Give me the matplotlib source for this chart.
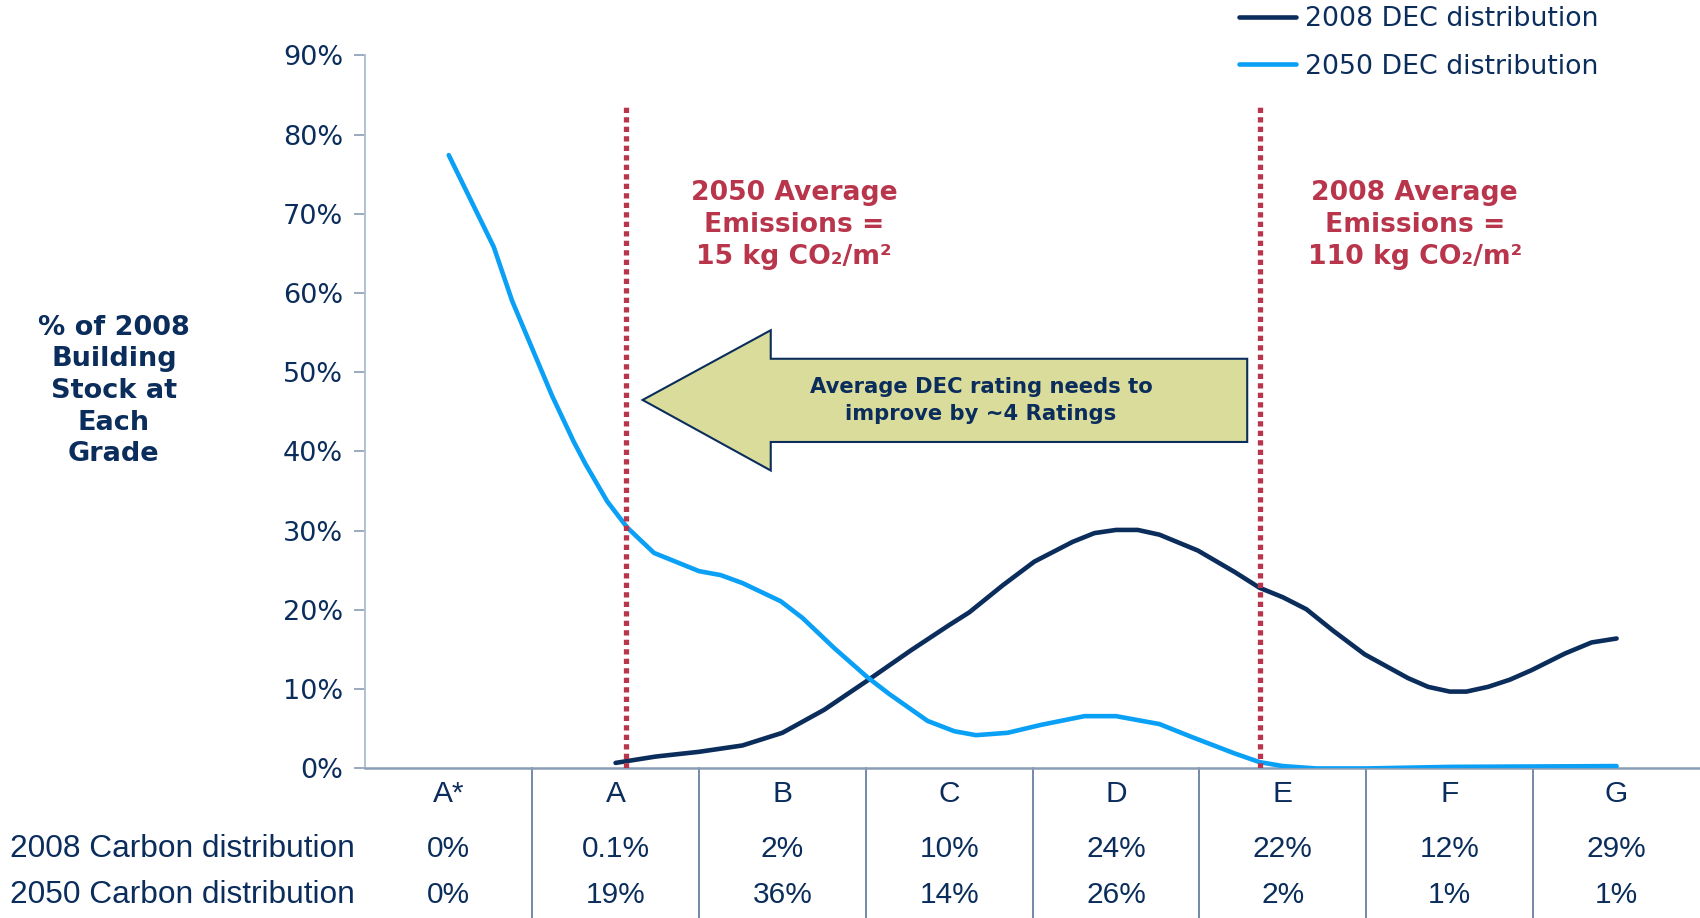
import matplotlib
matplotlib.use('Agg')
import matplotlib.pyplot as plt
from matplotlib.patches import Polygon
from matplotlib.transforms import blended_transform_factory

# categorias e tabela de baixo
grades = ['A*', 'A', 'B', 'C', 'D', 'E', 'F', 'G']
carbon_2008 = ['0%', '0.1%', '2%', '10%', '24%', '22%', '12%', '29%']
carbon_2050 = ['0%', '19%', '36%', '14%', '26%', '2%', '1%', '1%']

# curvas (posicao em unidades de nota, % do estoque)
dec_2008_x = [1.0, 1.24, 1.5, 1.76, 2.0, 2.25, 2.51, 2.77, 3.0, 3.12, 3.32, 3.51,
              3.74, 3.87, 4.0, 4.13, 4.26, 4.49, 4.71, 4.86, 5.0, 5.14, 5.3, 5.49,
              5.75, 5.87, 6.0, 6.1, 6.23, 6.36, 6.49, 6.69, 6.85, 7.0]
dec_2008_y = [0.7, 1.5, 2.1, 2.9, 4.5, 7.4, 11.1, 14.9, 18.1, 19.7, 23.1, 26.1,
              28.6, 29.7, 30.1, 30.1, 29.5, 27.5, 24.8, 22.8, 21.6, 20.1, 17.4, 14.4,
              11.4, 10.3, 9.7, 9.7, 10.3, 11.2, 12.4, 14.5, 15.9, 16.4]

dec_2050_x = [0.0, 0.27, 0.38, 0.62, 0.75, 0.82, 0.95, 1.07, 1.23, 1.5, 1.63, 1.76,
              1.99, 2.12, 2.31, 2.51, 2.64, 2.87, 3.03, 3.16, 3.35, 3.55, 3.81, 4.0,
              4.26, 4.45, 4.71, 4.86, 5.0, 5.2, 5.5, 6.0, 7.0]
dec_2050_y = [77.4, 65.8, 59.0, 47.0, 41.2, 38.4, 33.7, 30.4, 27.2, 24.9, 24.4, 23.4,
              21.1, 19.0, 15.2, 11.5, 9.4, 6.0, 4.7, 4.2, 4.5, 5.5, 6.6, 6.6,
              5.6, 4.0, 1.9, 0.8, 0.3, 0.0, 0.0, 0.2, 0.3]

media_2050 = 1.065
media_2008 = 4.864

navy = '#0b2d5c'
azul = '#0aa0f5'
vermelho = '#b8354c'
eixo = '#8a9db5'

fig = plt.figure(figsize=(17, 9.18), dpi=100)
ax = fig.add_axes([0.2149, 0.1629, 1 - 0.2149, 0.9398 - 0.1629])

ax.plot(dec_2008_x, dec_2008_y, color=navy, lw=3.3, label='2008 DEC distribution',
        solid_capstyle='round', zorder=3)
ax.plot(dec_2050_x, dec_2050_y, color=azul, lw=3.3, label='2050 DEC distribution',
        solid_capstyle='round', zorder=3)

for pos in [media_2050, media_2008]:
    ax.plot([pos, pos], [0, 84.0], color=vermelho, lw=3.8, linestyle=(0, (1.0, 0.8)), zorder=4)

ax.set_xlim(-0.5, 7.5)
ax.set_ylim(0, 90)
ax.set_yticks(range(0, 91, 10))
ax.set_yticklabels([f'{v}%' for v in range(0, 91, 10)], fontsize=19.5, color=navy)
ax.set_xticks([])
ax.tick_params(axis='y', direction='out', length=8, color=eixo, width=1.2, pad=8)
for s in ['top', 'right']:
    ax.spines[s].set_visible(False)
ax.spines['left'].set_color('#a9bcd2')
ax.spines['bottom'].set_color(eixo)
ax.spines['left'].set_linewidth(1.3)
ax.spines['bottom'].set_linewidth(1.8)
ax.patch.set_alpha(0)

# textos das medias
ax.text(2.07, 68.6, '2050 Average\nEmissions =\n15 kg CO\u2082/m\u00b2', ha='center', va='center',
        fontsize=19.2, fontweight='bold', color=vermelho, linespacing=1.3)
ax.text(5.79, 68.6, '2008 Average\nEmissions =\n110 kg CO\u2082/m\u00b2', ha='center', va='center',
        fontsize=19.2, fontweight='bold', color=vermelho, linespacing=1.3)

# seta
seta = Polygon([(1.162, 46.5), (1.93, 55.3), (1.93, 51.7), (4.786, 51.7),
                (4.786, 41.2), (1.93, 41.2), (1.93, 37.6)],
               closed=True, facecolor='#dadc9c', edgecolor=navy, lw=1.5, zorder=2)
ax.add_patch(seta)
ax.text(3.19, 46.4, 'Average DEC rating needs to\nimprove by ~4 Ratings', ha='center', va='center',
        fontsize=15.2, fontweight='bold', color=navy, linespacing=1.42, zorder=5)

# rotulo do eixo y
fig.text(0.067, 0.574, '% of 2008\nBuilding\nStock at\nEach\nGrade', ha='center', va='center',
         fontsize=19.5, fontweight='bold', color=navy, linespacing=1.28)

# tabela
trans = blended_transform_factory(ax.transData, fig.transFigure)
for i in range(len(grades)):
    ax.text(i, 0.135, grades[i], transform=trans, ha='center', va='center',
            fontsize=21.5, color=navy, family='Liberation Sans')
    ax.text(i, 0.0755, carbon_2008[i], transform=trans, ha='center', va='center',
            fontsize=21.5, color=navy, family='Liberation Sans')
    ax.text(i, 0.0248, carbon_2050[i], transform=trans, ha='center', va='center',
            fontsize=21.5, color=navy, family='Liberation Sans')
for i in range(len(grades) - 1):
    ax.plot([i + 0.5, i + 0.5], [0, 0.1629], transform=trans, color='#4b6a92', lw=1.1, clip_on=False)
fig.text(0.2085, 0.0755, '2008 Carbon distribution', ha='right', va='center',
         fontsize=22.8, color=navy, family='Liberation Sans')
fig.text(0.2085, 0.0248, '2050 Carbon distribution', ha='right', va='center',
         fontsize=22.8, color=navy, family='Liberation Sans')

leg = fig.legend(loc='upper left', bbox_to_anchor=(0.729, 0.993), frameon=False,
                 fontsize=19.3, handlelength=2.1, handletextpad=0.35, labelspacing=0.8,
                 borderpad=0, borderaxespad=0)
for t in leg.get_texts():
    t.set_color(navy)

fig.savefig('out.png', dpi=100)
